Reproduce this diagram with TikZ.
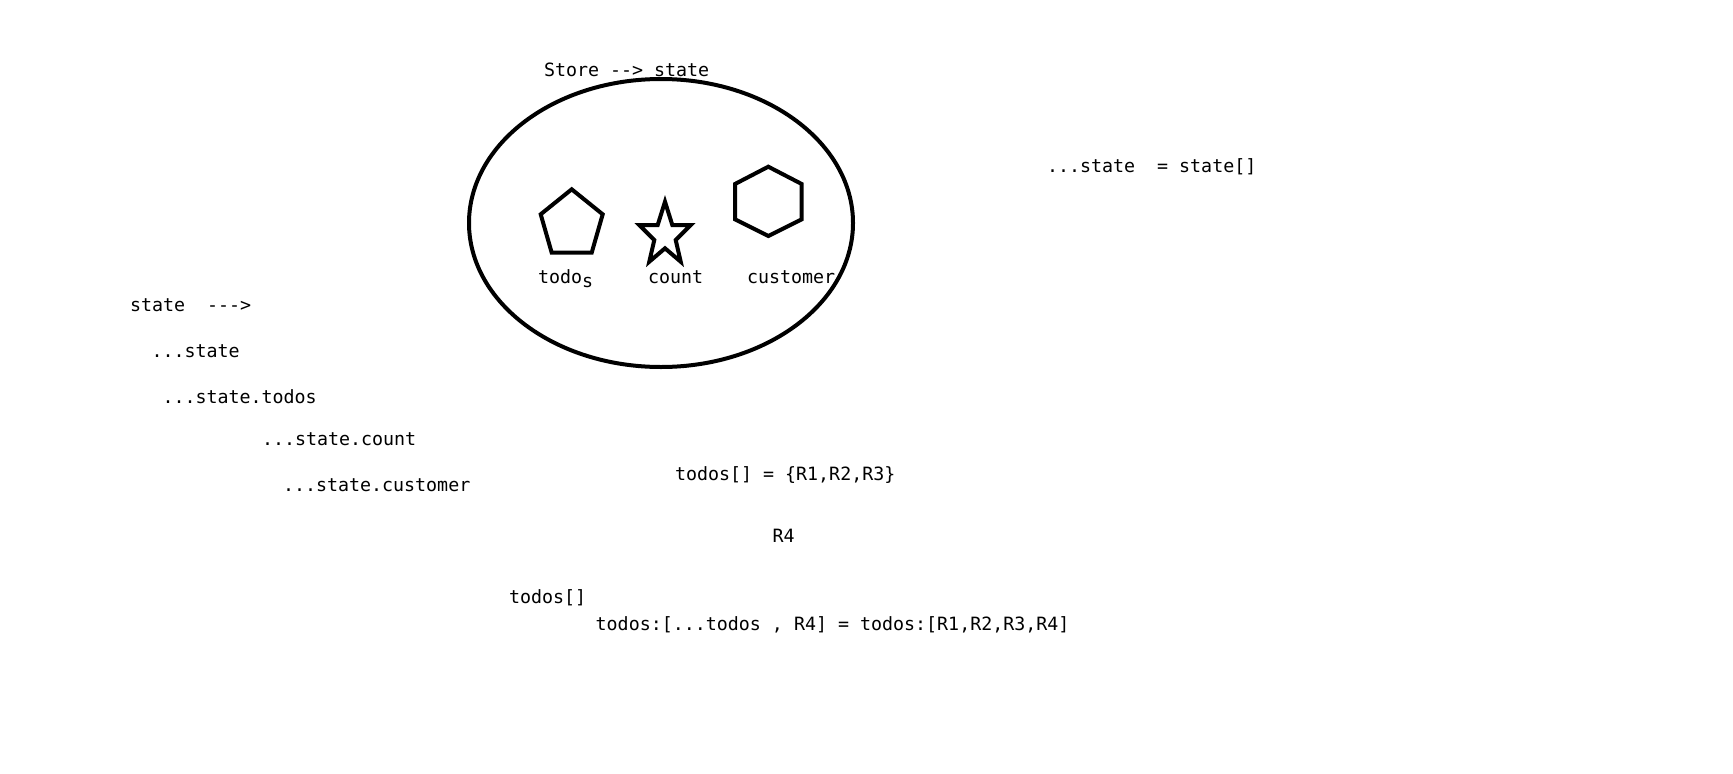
\documentclass[tikz,border=0pt]{standalone}
\usepackage{fontspec}
\setmonofont{DejaVu Sans Mono}
\begin{document}
\begin{tikzpicture}[x=1pt,y=-1pt,
  txt/.style={anchor=base west,inner sep=0pt,outer sep=0pt,font=\ttfamily\fontsize{18.3}{22}\selectfont},
  outline/.style={draw=black,line width=4pt}]
\useasboundingbox[fill=white] (0,0) rectangle (1733,774);
% store ellipse and shapes
\draw[outline] (661,223) ellipse [x radius=192, y radius=144];
\draw[outline] (571.7,189.3) -- (602.7,214.3) -- (591.7,252.7) -- (551.7,252.7) -- (540.7,214.3) -- cycle;
\draw[outline] (665,201.7) -- (672.3,225) -- (690.7,225) -- (675.7,240) -- (680.7,261.7) -- (665,248.3) -- (649.3,261.7) -- (654.3,240) -- (639.3,225) -- (657.7,225) -- cycle;
\draw[outline] (768.3,166.7) -- (801.7,184) -- (801.7,219.3) -- (768.3,236) -- (735,219.3) -- (735,184) -- cycle;
% labels
\node[txt] (store) at (544,76) {Store -{}-> state};
\node[txt] (todos) at (538,283) {todo\raisebox{-4pt}{s}};
\node[txt] (count) at (648,283) {count};
\node[txt] (customer) at (747,283) {customer};
\node[txt] (spread) at (1047,172.3) {...state\ \ = state[]};
\node[txt] (s1) at (130,311.7) {state\ \ -{}-{}->};
\node[txt] (s2) at (151.5,357) {...state};
\node[txt] (s3) at (162.5,403) {...state.todos};
\node[txt] (s4) at (262,445.7) {...state.count};
\node[txt] (s5) at (283,491.7) {...state.customer};
\node[txt] (t1) at (675,480.7) {todos[] = \{R1,R2,R3\}};
\node[txt] (r4) at (772.5,542) {R4};
\node[txt] (t2) at (509,603.3) {todos[]};
\node[txt] (t3) at (595.7,630) {todos:[...todos , R4] = todos:[R1,R2,R3,R4]};
\end{tikzpicture}
\end{document}
